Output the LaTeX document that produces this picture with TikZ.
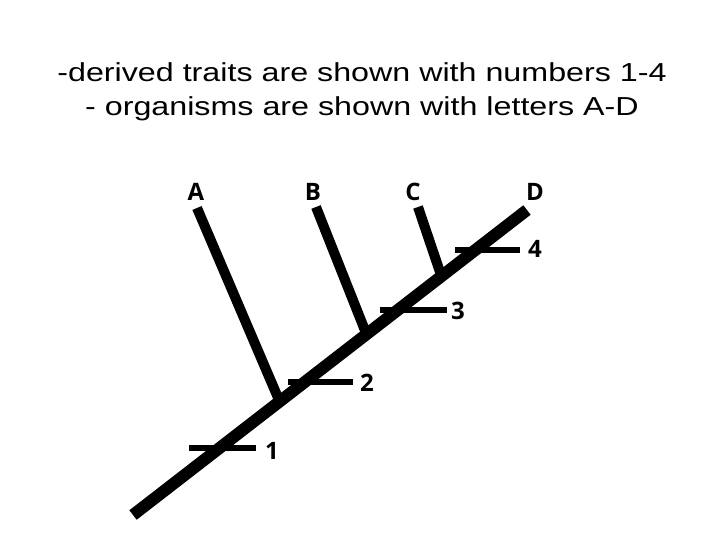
\documentclass[tikz,border=0pt]{standalone}
\usepackage{fontspec}
\setmainfont{Liberation Sans}
\newfontfamily\titlefont[FakeStretch=1.24]{Liberation Sans}
\newfontfamily\labfont{Open Sans}
\begin{document}
\begin{tikzpicture}[x=1pt,y=-1pt,
  trunk/.style={line width=12pt,black},
  twig/.style={line width=10pt,black},
  tick/.style={line width=6pt,black},
  taxon/.style={font=\labfont\fontsize{24}{26}\selectfont\bfseries,inner sep=0pt},
  trait/.style={font=\labfont\fontsize{24}{26}\selectfont\bfseries,inner sep=0pt},
  title/.style={font=\titlefont\fontsize{26}{34}\selectfont,align=center,inner sep=0pt}]
\useasboundingbox (0,0) rectangle (720,540);
\fill[white] (0,0) rectangle (720,540);
\node[title,anchor=base] (t) at (362,116) {-derived traits are shown with numbers 1-4\\- organisms are shown with letters A-D};
% trunk
\coordinate (r0) at (133,515);
\coordinate (rD) at (527,210);
\draw[trunk] (r0) -- (rD);
% branches
\coordinate (a0) at (197,208);
\coordinate (a1) at (279,400);
\coordinate (b0) at (316,207);
\coordinate (b1) at (366,333);
\coordinate (c0) at (418,207);
\coordinate (c1) at (441,275);
\draw[twig] (a0) -- (a1);
\draw[twig] (b0) -- (b1);
\draw[twig] (c0) -- (c1);
% trait bars
\coordinate (t1a) at (189,448); \coordinate (t1b) at (256,448);
\coordinate (t2a) at (288,382); \coordinate (t2b) at (353,382);
\coordinate (t3a) at (380,310); \coordinate (t3b) at (447,310);
\coordinate (t4a) at (455,250); \coordinate (t4b) at (520,250);
\draw[tick] (t1a) -- (t1b);
\draw[tick] (t2a) -- (t2b);
\draw[tick] (t3a) -- (t3b);
\draw[tick] (t4a) -- (t4b);
% labels
\node[taxon] (lA) at (196,192) {A};
\node[taxon] (lB) at (313,192) {B};
\node[taxon] (lC) at (413,192) {C};
\node[taxon] (lD) at (535,192) {D};
\node[trait] (n1) at (272,451) {1};
\node[trait] (n2) at (367,383) {2};
\node[trait] (n3) at (458,311) {3};
\node[trait] (n4) at (535,249) {4};
\end{tikzpicture}
\end{document}
